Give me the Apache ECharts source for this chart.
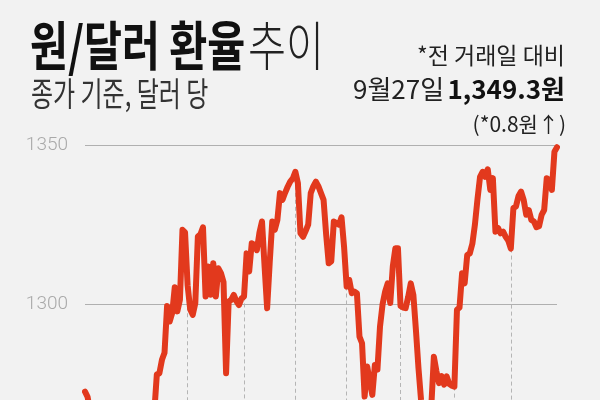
<!DOCTYPE html>
<html>
<head>
<meta charset="utf-8">
<script src="https://cdn.jsdelivr.net/npm/echarts@6/dist/echarts.min.js"></script>
<style>
html,body{margin:0;padding:0;background:#f2f2f2;}
#c{width:600px;height:400px;}
</style>
</head>
<body>
<div id="c"></div>
<script>
// USD/KRW closing rate, trading days 2023-01-02 .. 2023-09-27
const holidays = ['2023-01-23','2023-01-24','2023-03-01','2023-05-01','2023-05-05','2023-05-29','2023-06-06','2023-08-15'];
const firstDay = '2023-01-02';
const lastDay = '2023-09-27';
const values = [
1272.6,1271.0,1266.5,1261.0,1257.5,1254.0,1250.0,1247.2,1244.3,1243.3,
1246.4,1241.0,1236.0,1239.0,1236.5,1241.3,1232.8,1235.0,1231.7,1231.9,
1220.3,1220.3,1227.4,1252.8,1252.7,1260.0,1257.0,1266.0,1278.0,1278.4,
1282.6,1284.8,1299.5,1294.6,1297.3,1305.4,1297.8,1301.4,1323.4,1322.6,
1306.0,1298.5,1296.7,1300.4,1321.3,1322.0,1324.2,1302.5,1311.9,1303.0,
1312.9,1302.5,1311.3,1309.8,1307.0,1278.4,1300.9,1301.4,1303.0,1301.0,
1299.8,1301.8,1302.5,1316.0,1310.3,1319.2,1318.7,1317.0,1322.5,1326.0,
1312.0,1298.8,1313.0,1326.0,1323.4,1326.5,1334.9,1332.8,1335.0,1336.9,
1338.5,1339.5,1341.6,1338.0,1322.3,1321.2,1323.0,1325.0,1334.9,1337.0,
1338.5,1337.0,1334.9,1332.8,1322.0,1312.9,1313.5,1326.0,1325.5,1325.0,
1327.3,1318.0,1305.6,1307.7,1303.5,1304.0,1303.5,1289.9,1287.8,1271.1,
1280.5,1276.0,1271.6,1281.0,1279.5,1293.0,1300.0,1304.0,1306.6,1300.4,
1312.0,1317.6,1317.6,1299.5,1299.0,1298.8,1302.4,1306.6,1303.0,1292.0,
1280.0,1270.0,1263.0,1266.0,1262.0,1268.0,1283.6,1279.0,1275.3,1277.5,
1274.8,1277.4,1275.0,1274.5,1274.2,1298.3,1299.0,1309.8,1306.6,1315.5,
1316.0,1319.0,1325.0,1333.0,1340.0,1341.6,1340.0,1342.4,1335.9,1339.6,
1322.8,1324.0,1322.3,1322.8,1321.2,1320.0,1317.5,1330.2,1330.7,1334.0,
1335.4,1332.8,1328.1,1329.6,1326.5,1326.0,1324.2,1324.5,1328.1,1329.6,
1339.6,1339.0,1335.9,1347.9,1349.3
];
const yTicks = [1300, 1350];
const yMin = 1270, yMax = 1350;
const titleMain = '원/달러 환율';
const titleSub = '추이';
const subtitle = '종가 기준, 달러 당';
const noteText = '*전 거래일 대비';
const lastLabelDate = '9월27일';
const lastLabelValue = '1,349.3원';
const changeText = '(*0.8원↑)';

// trading-day categories
const dates = [];
(function(){
  const d = new Date(firstDay + 'T00:00:00Z');
  const end = new Date(lastDay + 'T00:00:00Z');
  while (d <= end) {
    const wd = d.getUTCDay();
    const s = d.toISOString().slice(0,10);
    if (wd !== 0 && wd !== 6 && holidays.indexOf(s) < 0) dates.push(s);
    d.setUTCDate(d.getUTCDate() + 1);
  }
})();

// first trading day of each month (except the first month)
const monthMarks = [];
for (let i = 1; i < dates.length; i++) {
  if (dates[i].slice(5,7) !== dates[i-1].slice(5,7)) monthMarks.push(i);
}

const chart = echarts.init(document.getElementById('c'), null, {renderer:'canvas'});
const font = '"Noto Sans CJK KR", "Noto Sans", sans-serif';
chart.setOption({
  backgroundColor: '#f2f2f2',
  animation: false,
  grid: { left: 85, right: 43, top: 145, bottom: 0, containLabel: false },
  xAxis: {
    type: 'category', data: dates, boundaryGap: false,
    axisLine: {show:false}, axisTick: {show:false}, axisLabel: {show:false}, splitLine: {show:false}
  },
  yAxis: {
    type: 'value', min: yMin, max: yMax,
    axisLine: {show:false},
    axisTick: {show:false, customValues: yTicks},
    axisLabel: { customValues: yTicks, color: '#a9a9a9', fontSize: 19, fontFamily: 'Roboto, sans-serif', fontWeight: 300, margin: 17,
      formatter: v => String(v) },
    splitLine: { lineStyle: { color: '#b0b0b0', width: 1 } }
  },
  series: [{
    type: 'line', data: values, showSymbol: false, symbol: 'none', clip: true, z: 3,
    lineStyle: { color: '#e2391d', width: 6, cap: 'round', join: 'round' },
    markLine: {
      z: 1, silent: true, symbol: ['none','none'], label: {show:false},
      lineStyle: { color: '#b5b5b5', type: [4,3], width: 1 },
      data: monthMarks.map(i => [{coord:[dates[i], values[i]]}, {coord:[dates[i], yMin]}])
    }
  }],
  graphic: [
    { type:'text', x:30, y:19, scaleX:0.86, scaleY:1.12,
      style:{ text:'{b|' + titleMain + '} {l|' + titleSub + '}', fill:'#111',
        rich:{ b:{ font:'bold 48px ' + font, fill:'#111' }, l:{ font:'300 48px ' + font, fill:'#222' } } } },
    { type:'text', x:31, y:77, scaleX:0.8, scaleY:1.1,
      style:{ text: subtitle, font:'400 30px ' + font, fill:'#333' } },
    { type:'text', x:565, y:44,
      style:{ text: noteText, font:'400 23px ' + font, fill:'#222', align:'right' } },
    { type:'text', x:565, y:76,
      style:{ text:'{r|' + lastLabelDate + '} {b|' + lastLabelValue + '}', align:'right',
        rich:{ r:{ font:'400 26px ' + font, fill:'#222' }, b:{ font:'bold 26px ' + font, fill:'#111' } } } },
    { type:'text', x:566, y:114,
      style:{ text: changeText, font:'400 21px ' + font, fill:'#222', align:'right' } }
  ]
});
</script>
</body>
</html>
